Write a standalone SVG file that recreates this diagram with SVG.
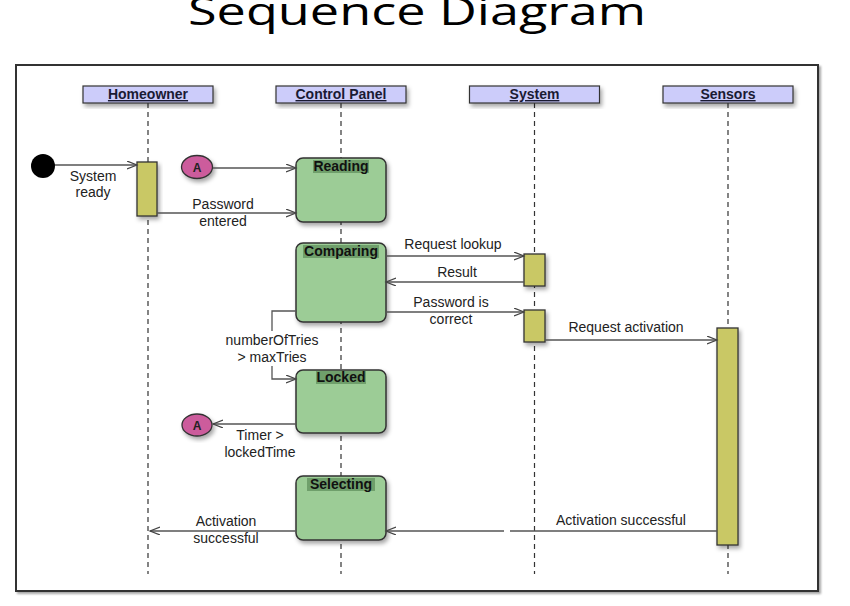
<svg xmlns="http://www.w3.org/2000/svg" width="850" height="606" viewBox="0 0 850 606">
<defs>
<filter id="sh" x="-20%" y="-20%" width="150%" height="150%">
<feDropShadow dx="2" dy="3" stdDeviation="2" flood-color="#000" flood-opacity="0.35"/>
</filter>
<filter id="fsh" x="-5%" y="-5%" width="110%" height="110%">
<feDropShadow dx="2" dy="2" stdDeviation="1" flood-color="#000" flood-opacity="0.35"/>
</filter>
<marker id="arr" markerWidth="12" markerHeight="10" refX="10" refY="4" orient="auto" markerUnits="userSpaceOnUse">
<path d="M0,0 L10,4 L0,8" fill="none" stroke="#444" stroke-width="1.2"/>
</marker>
</defs>
<style>
.hdr{fill:#ccccfa;stroke:#333;stroke-width:1.2;filter:url(#sh)}
.hdrt{font-family:"Liberation Sans",Arial,sans-serif;font-size:14px;font-weight:bold;text-decoration:underline;fill:#1a1a33;text-anchor:middle}
.life{stroke:#333;stroke-width:1.2;stroke-dasharray:5,4;fill:none}
.bar{fill:#c9c865;stroke:#333;stroke-width:1.3;filter:url(#sh)}
.st{fill:#9ccc96;stroke:#333;stroke-width:1.5;filter:url(#sh)}
.hl{fill:#6f9f6b}
.stt{font-family:"Liberation Sans",Arial,sans-serif;font-size:14px;font-weight:bold;fill:#111;text-anchor:middle}
.msg{stroke:#555;stroke-width:1.3;fill:none}
.lbl{font-family:"Liberation Sans",Arial,sans-serif;font-size:14px;fill:#222;text-anchor:middle}
.conn{fill:#cc5c9c;stroke:#333;stroke-width:1.3;filter:url(#sh)}
.connt{font-family:"Liberation Sans",Arial,sans-serif;font-size:12px;font-weight:bold;fill:#222;text-anchor:middle}
</style>
<rect width="850" height="606" fill="#fff"/>
<text x="417" y="25" font-family="'Open Sans','Noto Sans',sans-serif" font-size="38" fill="#000" text-anchor="middle" textLength="458" lengthAdjust="spacingAndGlyphs">Sequence Diagram</text>
<rect x="16" y="65" width="802" height="526" fill="#fff" stroke="#333" stroke-width="2" filter="url(#fsh)"/>

<g id="lifelines">
<line class="life" x1="148" y1="103" x2="148" y2="574"/>
<line class="life" x1="341" y1="103" x2="341" y2="574"/>
<line class="life" x1="534.5" y1="103" x2="534.5" y2="574"/>
<line class="life" x1="728" y1="103" x2="728" y2="574"/>
</g>

<g id="homeowner"><rect class="hdr" x="83" y="86" width="130" height="17"/><text class="hdrt" x="148" y="99">Homeowner</text></g>
<g id="control-panel"><rect class="hdr" x="276" y="86" width="130" height="17"/><text class="hdrt" x="341" y="99">Control Panel</text></g>
<g id="system"><rect class="hdr" x="469.5" y="86" width="130" height="17"/><text class="hdrt" x="534.5" y="99">System</text></g>
<g id="sensors"><rect class="hdr" x="663" y="86" width="130" height="17"/><text class="hdrt" x="728" y="99">Sensors</text></g>

<g id="start"><circle cx="43" cy="166" r="12" fill="#000"/></g>
<g id="homeowner-bar"><rect class="bar" x="137" y="162" width="20" height="54"/></g>
<g id="system-bar1"><rect class="bar" x="524" y="254" width="21" height="32"/></g>
<g id="system-bar2"><rect class="bar" x="524" y="310" width="21" height="32"/></g>
<g id="sensors-bar"><rect class="bar" x="717" y="328" width="21" height="217"/></g>

<g id="connector-a1"><ellipse class="conn" cx="197" cy="167" rx="15.5" ry="11.5"/><text class="connt" x="197" y="171.5">A</text></g>
<g id="connector-a2"><ellipse class="conn" cx="197" cy="425" rx="15" ry="11"/><text class="connt" x="197" y="429.5">A</text></g>

<g id="reading"><rect class="st" x="296" y="158" width="90" height="64" rx="7"/><rect class="hl" x="313" y="160" width="56" height="13"/><text class="stt" x="341" y="171">Reading</text></g>
<g id="comparing"><rect class="st" x="296" y="243" width="90" height="79" rx="7"/><rect class="hl" x="303" y="245" width="76" height="13"/><text class="stt" x="341" y="256">Comparing</text></g>
<g id="locked"><rect class="st" x="296" y="370" width="90" height="63" rx="7"/><rect class="hl" x="316" y="371" width="50" height="13"/><text class="stt" x="341" y="382">Locked</text></g>
<g id="selecting"><rect class="st" x="296" y="476" width="90" height="64" rx="7"/><rect class="hl" x="307" y="478" width="68" height="13"/><text class="stt" x="341" y="489">Selecting</text></g>

<g id="connectors">
<line class="msg" x1="55" y1="165" x2="137" y2="165" marker-end="url(#arr)"/>
<line class="msg" x1="213" y1="168" x2="296" y2="168" marker-end="url(#arr)"/>
<line class="msg" x1="157" y1="213" x2="296" y2="213" marker-end="url(#arr)"/>
<line class="msg" x1="386" y1="256" x2="524" y2="256" marker-end="url(#arr)"/>
<line class="msg" x1="524" y1="282" x2="386" y2="282" marker-end="url(#arr)"/>
<line class="msg" x1="386" y1="312" x2="524" y2="312" marker-end="url(#arr)"/>
<line class="msg" x1="545" y1="340" x2="717" y2="340" marker-end="url(#arr)"/>
<path class="msg" d="M296,311 H272 V331"/>
<path class="msg" d="M272,366 V379 H296" marker-end="url(#arr)"/>
<line class="msg" x1="296" y1="424" x2="213" y2="424" marker-end="url(#arr)"/>
<line class="msg" x1="717" y1="531" x2="510" y2="531"/>
<line class="msg" x1="504" y1="531" x2="386" y2="531" marker-end="url(#arr)"/>
<line class="msg" x1="296" y1="531" x2="150" y2="531" marker-end="url(#arr)"/>
<text class="lbl" x="93" y="181">System</text>
<text class="lbl" x="93" y="197">ready</text>
<text class="lbl" x="223" y="209">Password</text>
<text class="lbl" x="223" y="226">entered</text>
<text class="lbl" x="453" y="249">Request lookup</text>
<text class="lbl" x="457" y="277">Result</text>
<text class="lbl" x="451" y="307">Password is</text>
<text class="lbl" x="451" y="324">correct</text>
<text class="lbl" x="626" y="332">Request activation</text>
<text class="lbl" x="272" y="345">numberOfTries</text>
<text class="lbl" x="272" y="362">&gt; maxTries</text>
<text class="lbl" x="260" y="440">Timer &gt;</text>
<text class="lbl" x="260" y="457">lockedTime</text>
<text class="lbl" x="621" y="525">Activation successful</text>
<text class="lbl" x="226" y="526">Activation</text>
<text class="lbl" x="226" y="543">successful</text>
</g>
</svg>
